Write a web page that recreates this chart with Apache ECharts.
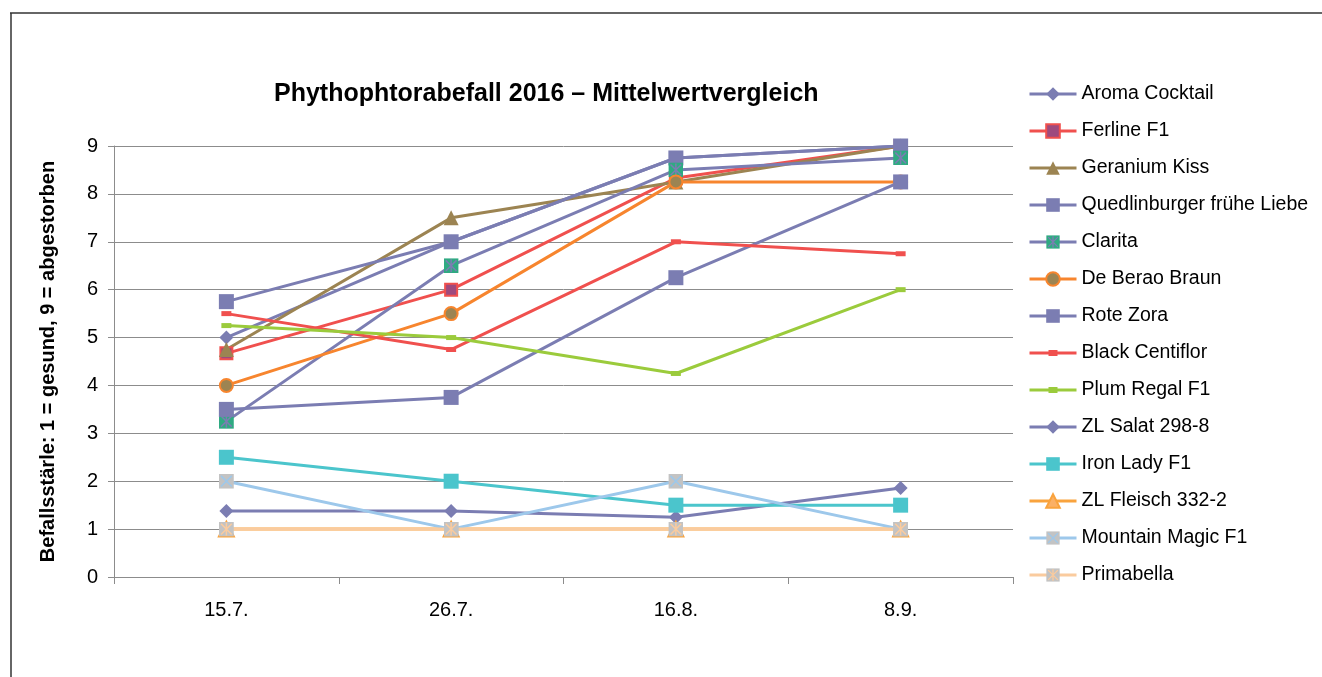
<!DOCTYPE html>
<html>
<head>
<meta charset="utf-8">
<script src="https://cdn.jsdelivr.net/npm/echarts@6/dist/echarts.min.js"></script>
<style>
  html, body { margin: 0; padding: 0; background: #fff; }
  #chart { width: 1322px; height: 677px; }
</style>
</head>
<body>
<div id="chart"></div>
<script>
// Termine der Bonitur
const dates = ['15.7.', '26.7.', '16.8.', '8.9.'];
const yTicks = [0, 1, 2, 3, 4, 5, 6, 7, 8, 9];

// Mittelwerte je Sorte
const aromaCocktail = [5, 7, 8.75, 9];
const ferlineF1 = [4.67, 6, 8.33, 9];
const geraniumKiss = [4.75, 7.5, 8.25, 9];
const quedlinburger = [5.75, 7, 8.75, 9];
const clarita = [3.25, 6.5, 8.5, 8.75];
const deBeraoBraun = [4, 5.5, 8.25, 8.25];
const roteZora = [3.5, 3.75, 6.25, 8.25];
const blackCentiflor = [5.5, 4.75, 7, 6.75];
const plumRegalF1 = [5.25, 5, 4.25, 6];
const zlSalat = [1.38, 1.38, 1.25, 1.86];
const ironLadyF1 = [2.5, 2, 1.5, 1.5];
const zlFleisch = [1, 1, 1, 1];
const mountainMagicF1 = [2, 1, 2, 1];
const primabella = [1, 1, 1, 1];

const font = 'Liberation Sans, Arial, sans-serif';
const purple = '#7B7DB2';
// Legendensymbol: Linie mit kleinem Strich
const dashIcon = 'path://M0 7H47V10H0ZM19 5.5H28V11.5H19Z';

// Excel-artige Marker (Quadrat mit Kreuz) als SVG
function starBox(fill, stroke, vertical) {
  const path = 'M2 2L12 12M12 2L2 12' + (vertical ? 'M7 1V13' : '');
  const svg = "<svg xmlns='http://www.w3.org/2000/svg' width='14' height='14'>" +
    "<rect width='14' height='14' fill='" + fill + "'/>" +
    "<path d='" + path + "' stroke='" + stroke + "' stroke-width='1.4' fill='none'/></svg>";
  return 'image://data:image/svg+xml;charset=utf-8,' + encodeURIComponent(svg);
}

function line(name, data, color, symbol, size, markerFill, markerBorder) {
  return {
    name: name,
    type: 'line',
    data: data,
    symbol: symbol,
    symbolSize: size,
    symbolKeepAspect: true,
    showAllSymbol: true,
    lineStyle: { color: color, width: 3 },
    itemStyle: {
      color: markerFill || color,
      borderColor: markerBorder || markerFill || color,
      borderWidth: markerBorder ? 2 : 0
    }
  };
}

const series = [
  line('Aroma Cocktail', aromaCocktail, purple, 'diamond', 14),
  line('Ferline F1', ferlineF1, '#F0504E', 'rect', 12, '#9E4A7E', '#F0504E'),
  line('Geranium Kiss', geraniumKiss, '#9C8452', 'triangle', 15),
  line('Quedlinburger frühe Liebe', quedlinburger, purple, 'rect', 15),
  line('Clarita', clarita, purple, starBox('#2FAA82', purple, true), 15),
  line('De Berao Braun', deBeraoBraun, '#F7852E', 'circle', 13, '#9C8452', '#F7852E'),
  line('Rote Zora', roteZora, purple, 'rect', 15),
  line('Black Centiflor', blackCentiflor, '#F0504E', 'rect', [10, 5]),
  line('Plum Regal F1', plumRegalF1, '#9BCB3C', 'rect', [10, 5]),
  line('ZL Salat 298-8', zlSalat, purple, 'diamond', 14),
  line('Iron Lady F1', ironLadyF1, '#4BC5CC', 'rect', 15),
  line('ZL Fleisch 332-2', zlFleisch, '#F9A33D', 'triangle', 15, '#FBB065', '#F9A33D'),
  line('Mountain Magic F1', mountainMagicF1, '#9DC8EB', starBox('#C3C3C3', '#9DC8EB', false), 15),
  line('Primabella', primabella, '#FACB9E', starBox('#C3C3C3', '#FACB9E', true), 15)
];

const legendData = series.map(s =>
  (s.name === 'Black Centiflor' || s.name === 'Plum Regal F1') ? { name: s.name, icon: dashIcon } : { name: s.name }
);

const chart = echarts.init(document.getElementById('chart'));

const option = {
  backgroundColor: '#fff',
  animation: false,
  textStyle: { fontFamily: font },
  title: {
    text: 'Phythophtorabefall 2016 – Mittelwertvergleich',
    left: 274,
    top: 82,
    padding: 0,
    textStyle: { fontFamily: font, fontSize: 25, fontWeight: 'bold', color: '#000' }
  },
  graphic: [
    { type: 'line', shape: { x1: 10, y1: 13, x2: 1322, y2: 13 }, style: { stroke: '#333', lineWidth: 1.5 } },
    { type: 'line', shape: { x1: 11, y1: 13, x2: 11, y2: 677 }, style: { stroke: '#333', lineWidth: 1.5 } }
  ],
  legend: {
    orient: 'vertical',
    left: 1028,
    top: 84,
    padding: 0,
    itemWidth: 47,
    itemHeight: 17,
    itemGap: 17,
    data: legendData,
    lineStyle: { width: 3 },
    textStyle: { fontFamily: font, fontSize: 19.5, color: '#000' }
  },
  grid: { left: 114, right: 309, top: 146, bottom: 100 },
  xAxis: {
    type: 'category',
    data: dates,
    boundaryGap: true,
    axisLine: { lineStyle: { color: '#8C8C8C', width: 1 } },
    axisTick: { show: true, length: 7, lineStyle: { color: '#8C8C8C' } },
    axisLabel: { fontFamily: font, fontSize: 20, color: '#000', margin: 23 }
  },
  yAxis: {
    type: 'value',
    min: yTicks[0],
    max: yTicks[yTicks.length - 1],
    interval: 1,
    name: 'Befallsstärle: 1 = gesund, 9 = abgestorben',
    nameLocation: 'middle',
    nameGap: 56,
    nameTextStyle: { fontFamily: font, fontSize: 20, fontWeight: 'bold', color: '#000' },
    axisLine: { show: true, lineStyle: { color: '#8C8C8C', width: 1 } },
    axisTick: { show: true, length: 6, lineStyle: { color: '#8C8C8C' } },
    axisLabel: { fontFamily: font, fontSize: 20, color: '#000', margin: 16 },
    splitLine: { lineStyle: { color: '#8C8C8C', width: 1 } }
  },
  series: series
};

chart.setOption(option);
</script>
</body>
</html>
